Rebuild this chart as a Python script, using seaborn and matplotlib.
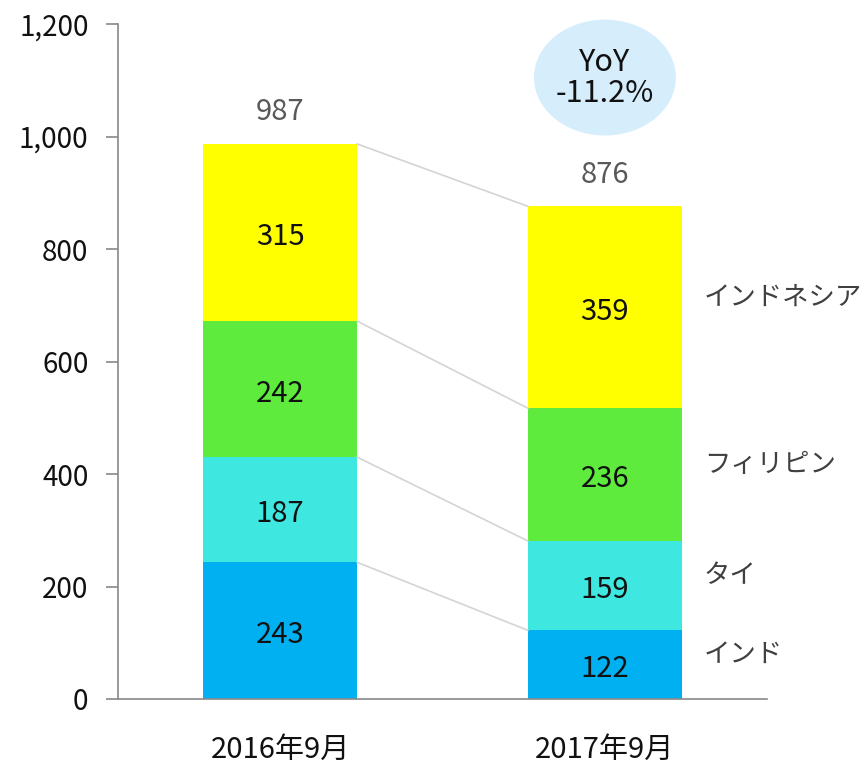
import pandas as pd
import matplotlib.pyplot as plt
import seaborn as sns
from matplotlib.patches import Ellipse
from matplotlib.ticker import FuncFormatter

# Data
periods = ["2016年9月", "2017年9月"]
series = ["インド", "タイ", "フィリピン", "インドネシア"]
india = [243, 122]
thai = [187, 159]
philippines = [242, 236]
indonesia = [315, 359]
totals = [987, 876]
yoy_text = "YoY\n-11.2%"

colors = ["#00B0F0", "#3EE8E0", "#5FEB3E", "#FFFF00"]

sns.set_style("white")
plt.rcParams['font.family'] = ['Noto Sans CJK JP', 'DejaVu Sans']

values = [india, thai, philippines, indonesia]
cum = []
run = [0, 0]
for v in values:
    run = [run[i] + v[i] for i in range(2)]
    cum.append(run)

fig = plt.figure(figsize=(8.66, 7.66), dpi=100)
ax = fig.add_axes([0.136, 0.0875, 0.75, 0.881])

# stacked bars: draw cumulative heights from top series down
for k in range(len(series) - 1, -1, -1):
    df = pd.DataFrame({"period": periods, "value": cum[k]})
    sns.barplot(data=df, x="period", y="value", color=colors[k],
                saturation=1, width=0.474, ax=ax, linewidth=0)

hw = 0.474 / 2
# connector lines between stacks
for k in range(len(series)):
    ax.plot([0 + hw, 1 - hw], [cum[k][0], cum[k][1]], color="#d4d4d4",
            lw=1.2, zorder=1)

# segment labels
for k in range(len(series)):
    for i in range(2):
        mid = cum[k][i] - values[k][i] / 2
        ax.text(i, mid - 8, str(values[k][i]), ha="center", va="center",
                fontsize=21, color="#111111")

# totals
for i in range(2):
    ax.text(i, totals[i] + 56, str(totals[i]), ha="center", va="center",
            fontsize=21, color="#595959")

# series labels on the right
for k in range(len(series)):
    mid = cum[k][1] - values[k][1] / 2
    ax.text(1 + 0.305, mid + 18, series[k], ha="left", va="center",
            fontsize=19, color="#404040")

# YoY bubble
ell = Ellipse((1.0, 1105), width=0.437, height=206, facecolor="#D6EDFC",
              edgecolor="none", zorder=3, clip_on=False)
ax.add_patch(ell)
ax.text(1.0, 1105, yoy_text, ha="center", va="center", fontsize=22,
        color="#111111", zorder=4, linespacing=1.0)

ax.set_xlim(-0.5, 1.5)
ax.set_ylim(0, 1200)
ax.set_yticks(range(0, 1201, 200))
ax.yaxis.set_major_formatter(FuncFormatter(lambda v, p: f"{int(v):,}"))
ax.set_xlabel("")
ax.set_ylabel("")
ax.tick_params(axis="y", left=True, length=9, width=1.2, color="#898989",
               labelsize=20, pad=12)
ax.tick_params(axis="x", bottom=False, labelsize=21, pad=22)
for lab in ax.get_xticklabels() + ax.get_yticklabels():
    lab.set_color("#111111")

sns.despine(ax=ax, top=True, right=True)
ax.spines["left"].set_color("#898989")
ax.spines["left"].set_linewidth(1.2)
ax.spines["bottom"].set_color("#898989")
ax.spines["bottom"].set_linewidth(1.2)

fig.savefig("out.png", dpi=100)
